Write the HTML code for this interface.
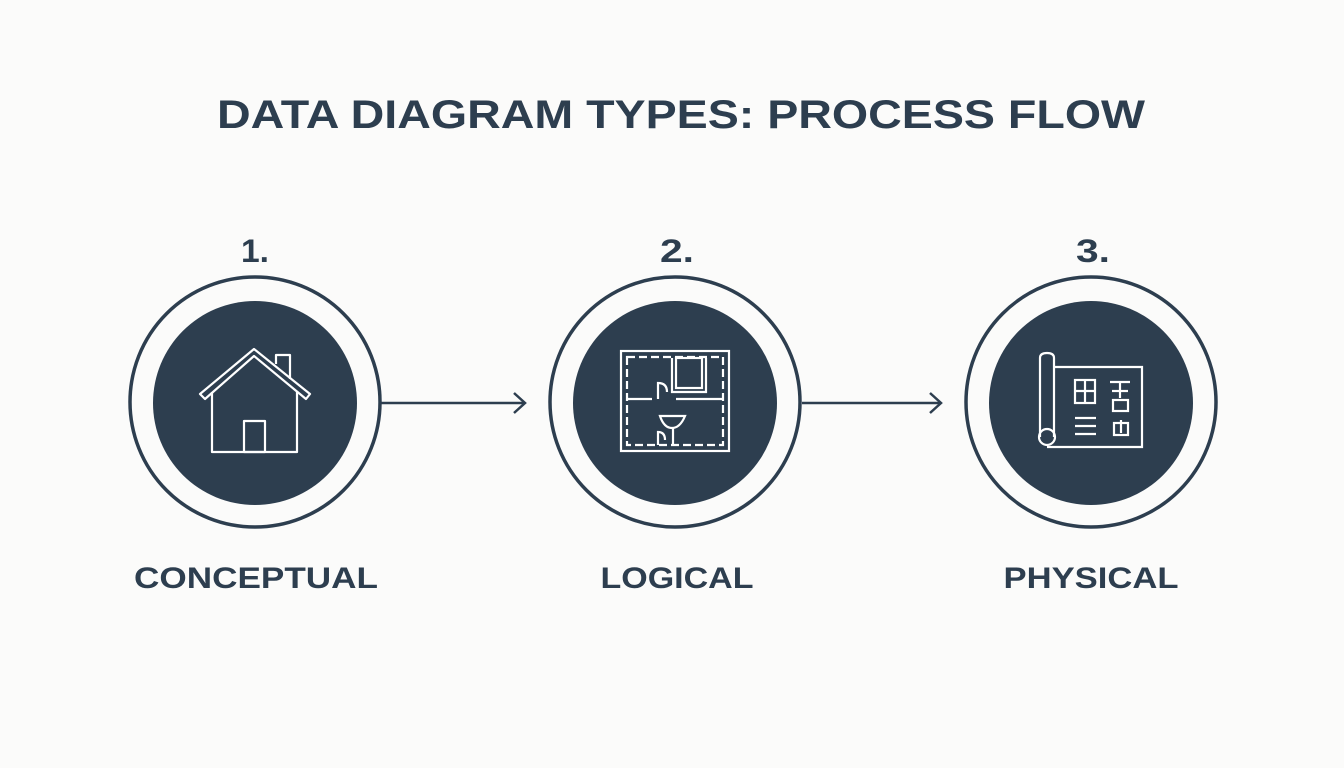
<!DOCTYPE html>
<html><head><meta charset="utf-8"><style>
html,body{margin:0;padding:0;background:#fbfbfa;}
svg{display:block}
text{font-family:"Liberation Sans",sans-serif;font-weight:bold;fill:#2d3e4f;text-anchor:middle}
</style></head><body>
<svg width="1344" height="768" viewBox="0 0 1344 768">
<rect width="1344" height="768" fill="#fbfbfa"/>
<text x="681" y="128" font-size="40" textLength="928" lengthAdjust="spacingAndGlyphs">DATA DIAGRAM TYPES: PROCESS FLOW</text>
<text x="255" y="262" font-size="32" textLength="28" lengthAdjust="spacingAndGlyphs">1.</text>
<text x="677" y="262" font-size="32" textLength="34" lengthAdjust="spacingAndGlyphs">2.</text>
<text x="1093" y="262" font-size="32" textLength="34" lengthAdjust="spacingAndGlyphs">3.</text>
<text x="256" y="588" font-size="30" textLength="244" lengthAdjust="spacingAndGlyphs">CONCEPTUAL</text>
<text x="677" y="588" font-size="30" textLength="153" lengthAdjust="spacingAndGlyphs">LOGICAL</text>
<text x="1091" y="588" font-size="30" textLength="175" lengthAdjust="spacingAndGlyphs">PHYSICAL</text>
<g fill="none" stroke="#2d3e4f" stroke-width="3.5">
<circle cx="255" cy="402" r="125"/>
<circle cx="675" cy="402" r="125"/>
<circle cx="1091" cy="402" r="125"/>
<line x1="381" y1="403" x2="525" y2="403" stroke-width="2.5"/>
<polyline points="514,393 525,403 514,413" stroke-width="2.5"/>
<line x1="802" y1="403" x2="941" y2="403" stroke-width="2.5"/>
<polyline points="930,393 941,403 930,413" stroke-width="2.5"/>
</g>
<g fill="#2d3e4f">
<circle cx="255" cy="403" r="102"/>
<circle cx="675" cy="403" r="102"/>
<circle cx="1091" cy="403" r="102"/>
</g>
<g fill="none" stroke="#fff" stroke-width="2.2" stroke-linejoin="round">
<path d="M200,394 L254,349 L310,394 L306,399 L254,356 L205,399 Z"/>
<polyline points="212,392 212,452 297,452 297,392"/>
<rect x="244" y="421" width="21" height="31"/>
<polyline points="276,364 276,355 290,355 290,379"/>
</g>
<g fill="none" stroke="#fff" stroke-width="2.2">
<rect x="621" y="351" width="108" height="100"/>
<rect x="627" y="357" width="96" height="88" stroke-dasharray="8,4"/>
<rect x="676" y="358" width="26" height="30"/>
<polyline points="672,358 672,392 706,392 706,358"/>
<line x1="627" y1="399" x2="652" y2="399"/>
<line x1="676" y1="399" x2="723" y2="399"/>
<path d="M658,399 L658,383 Q667,383 667,392"/>
<path d="M660,416 L685,416 Q680,428 672,428 Q664,428 660,416 Z"/>
<line x1="673" y1="428" x2="673" y2="445"/>
<path d="M658,445 L658,432 Q665,432 665,440"/>
</g>
<g fill="none" stroke="#fff" stroke-width="2.2">
<path d="M1040,437 L1040,358 Q1040,353 1047,353 Q1054,353 1054,358 L1054,437"/>
<circle cx="1047" cy="437" r="8"/>
<polyline points="1054,367 1142,367 1142,447 1047,447"/>
<rect x="1075" y="380" width="20" height="23"/>
<line x1="1085" y1="380" x2="1085" y2="403"/>
<line x1="1075" y1="391" x2="1095" y2="391"/>
<line x1="1075" y1="418" x2="1096" y2="418"/>
<line x1="1075" y1="426" x2="1096" y2="426"/>
<line x1="1075" y1="434" x2="1096" y2="434"/>
<line x1="1110" y1="382" x2="1130" y2="382"/>
<line x1="1112" y1="391" x2="1128" y2="391"/>
<line x1="1120" y1="382" x2="1120" y2="398"/>
<rect x="1113" y="400" width="15" height="11"/>
<rect x="1114" y="423" width="14" height="12"/>
<line x1="1121" y1="420" x2="1121" y2="433"/>
</g>
</svg>
</body></html>
